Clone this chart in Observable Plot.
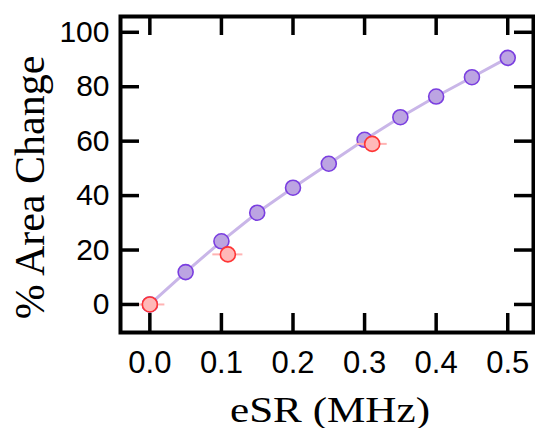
<!DOCTYPE html>
<html>
<head>
<meta charset="utf-8">
<script src="https://cdn.jsdelivr.net/npm/d3@7"></script>
<script src="https://cdn.jsdelivr.net/npm/@observablehq/plot@0.6"></script>
<style>
  html, body { margin: 0; padding: 0; background: #fff; }
  svg { display: block; }
</style>
</head>
<body>
<div id="chart"></div>
<script>
// ---- data ----
const purpleX = [0, 0.05, 0.1, 0.15, 0.2, 0.25, 0.3, 0.35, 0.4, 0.45, 0.5];
const purpleY = [0, 11.9, 23.2, 33.7, 42.9, 51.7, 60.5, 68.8, 76.4, 83.5, 90.6];
const redX = [0, 0.109, 0.3106];
const redY = [0, 18.4, 59.0];
const redErr = [0.021, 0.021, 0.021];
const xTicks = [0.0, 0.1, 0.2, 0.3, 0.4, 0.5];
const yTicks = [0, 20, 40, 60, 80, 100];
const xLabel = "eSR (MHz)";
const yLabel = "% Area Change";

const purple = purpleX.map((x, i) => ({x, y: purpleY[i]}));
const red = redX.map((x, i) => ({x, y: redY[i], err: redErr[i]}));

const W = 535, H = 428;
const mL = 120, mR = 2, mT = 16, mB = 96;
const fw = W - mL - mR, fh = H - mT - mB;
const tickLen = 19;

const plot = Plot.plot({
  width: W,
  height: H,
  marginLeft: mL,
  marginRight: mR,
  marginTop: mT,
  marginBottom: mB,
  style: {background: "#fff", overflow: "visible"},
  x: {domain: [-0.041, 0.536]},
  y: {domain: [-10.3, 105.8]},
  marks: [
    Plot.line(purple, {x: "x", y: "y", stroke: "#c9b6e8", strokeWidth: 3}),
    Plot.dot(purple, {x: "x", y: "y", r: 7.5, fill: "#bca4e2", stroke: "#7a3ee0", strokeWidth: 1.6}),
    Plot.ruleY(red, {y: "y", x1: d => d.x - d.err, x2: d => d.x + d.err, stroke: "#ffb3b3", strokeWidth: 2}),
    Plot.dot(red, {x: "x", y: "y", r: 7.5, fill: "#ffb8b8", stroke: "#ff3535", strokeWidth: 1.6}),
    // inward ticks on all four sides
    Plot.ruleX(xTicks, {x: d => d, stroke: "#000", strokeWidth: 3.5, insetTop: fh - tickLen}),
    Plot.ruleX(xTicks, {x: d => d, stroke: "#000", strokeWidth: 3.5, insetBottom: fh - tickLen}),
    Plot.ruleY(yTicks, {y: d => d, stroke: "#000", strokeWidth: 3.5, insetRight: fw - tickLen}),
    Plot.ruleY(yTicks, {y: d => d, stroke: "#000", strokeWidth: 3.5, insetLeft: fw - tickLen}),
    Plot.frame({stroke: "#000", strokeWidth: 4}),
    Plot.axisX(xTicks, {tickSize: 0, tickPadding: 18, tickFormat: d3.format(".1f"), fontSize: 31, fontFamily: "Liberation Sans", fill: "#000", label: null}),
    Plot.axisY(yTicks, {tickSize: 0, tickPadding: 11, tickFormat: d => String(d), fontSize: 30, fontFamily: "Liberation Sans", fill: "#000", label: null}),
    Plot.text([xLabel], {text: d => d, frameAnchor: "bottom", dx: 3, dy: 78, lineAnchor: "middle", fontSize: 36, fontFamily: "Liberation Serif", fill: "#000", className: "xlab"}),
    Plot.text([yLabel], {text: d => d, frameAnchor: "left", textAnchor: "middle", dx: -90, dy: 13, rotate: -90, lineAnchor: "middle", fontSize: 42, fontFamily: "Liberation Serif", fill: "#000"})
  ]
});
d3.select(plot).selectAll(".xlab text").attr("textLength", 200).attr("lengthAdjust", "spacingAndGlyphs");
document.getElementById("chart").appendChild(plot);
</script>
</body>
</html>
